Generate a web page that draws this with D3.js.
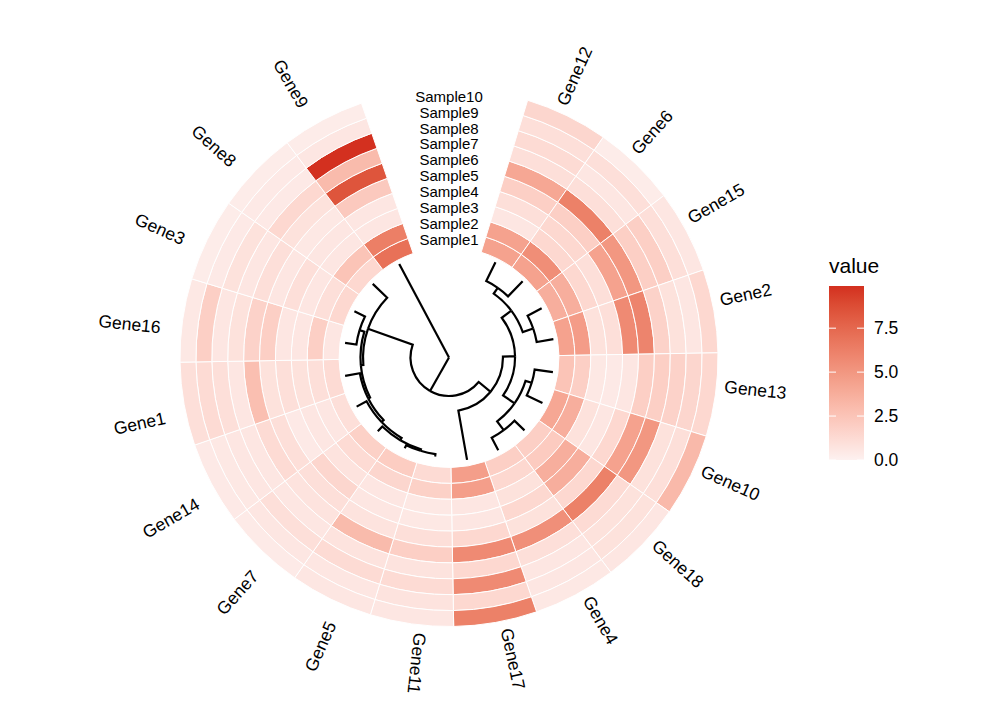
<!DOCTYPE html>
<html>
<head>
<meta charset="utf-8">
<script src="https://cdn.jsdelivr.net/npm/d3@7"></script>
<style>
  body { margin: 0; background: #fff; }
  text { font-family: "Liberation Sans", Arial, Helvetica, sans-serif; fill: #000; }
</style>
</head>
<body>
<svg></svg>
<script>
const width = 1008;
const height = 720;

// genes in clockwise order, starting right after the gap
const genes = ["Gene12", "Gene6", "Gene15", "Gene2", "Gene13", "Gene10", "Gene18", "Gene4", "Gene17",
  "Gene11", "Gene5", "Gene7", "Gene14", "Gene1", "Gene16", "Gene3", "Gene8", "Gene9"];
const samples = ["Sample1", "Sample2", "Sample3", "Sample4", "Sample5",
  "Sample6", "Sample7", "Sample8", "Sample9", "Sample10"];

// one row per gene (same order as genes), Sample1 .. Sample10
const values = [
  [4.4, 4.4, 0.6, 1.0, 1.9, 4.1, 1.0, 1.2, 1.0, 1.5],  // Gene12
  [4.4, 5.5, 1.4, 1.4, 1.9, 6.2, 1.0, 0.6, 1.0, 0.3],  // Gene6
  [3.7, 3.7, 1.4, 1.0, 4.4, 5.0, 1.9, 1.9, 1.0, 0.6],  // Gene15
  [4.4, 4.7, 0.85, 1.0, 5.7, 6.0, 1.7, 0.85, 0.6, 1.4], // Gene2
  [2.5, 1.9, 0.5, 0.45, 0.6, 1.9, 1.9, 1.7, 1.5, 1.4], // Gene13
  [4.1, 3.7, 0.85, 0.6, 1.4, 4.4, 5.0, 0.85, 1.0, 3.1], // Gene10
  [1.9, 2.1, 3.7, 3.7, 1.4, 6.2, 1.2, 0.85, 0.85, 0.6], // Gene18
  [1.9, 1.4, 0.85, 1.4, 0.85, 5.4, 1.0, 0.6, 0.6, 0.5], // Gene4
  [4.6, 4.6, 0.6, 0.6, 1.4, 5.7, 1.4, 5.7, 1.4, 6.2],  // Gene17
  [1.2, 1.8, 0.5, 0.5, 1.0, 1.9, 0.8, 1.2, 0.8, 0.6],  // Gene11
  [2.0, 1.5, 0.6, 0.6, 0.8, 3.0, 0.8, 1.2, 0.6, 0.6],  // Gene5
  [1.8, 1.2, 0.8, 1.5, 1.0, 0.8, 0.6, 1.0, 0.6, 0.4],  // Gene7
  [1.0, 0.6, 0.6, 0.45, 1.0, 1.2, 0.6, 0.6, 0.5, 0.45], // Gene14
  [1.2, 1.0, 0.85, 1.0, 0.85, 2.8, 0.6, 1.0, 1.2, 1.0], // Gene1
  [0.6, 1.9, 0.6, 0.6, 1.9, 1.7, 0.85, 0.6, 1.9, 0.5], // Gene16
  [1.4, 1.0, 0.6, 1.0, 0.6, 1.0, 0.6, 0.85, 0.45, 0.3], // Gene3
  [1.4, 2.5, 0.6, 0.6, 0.5, 0.85, 1.4, 0.45, 0.45, 0.3], // Gene8
  [7.0, 6.3, 0.6, 0.6, 2.2, 8.4, 3.0, 9.9, 0.6, 0.3]   // Gene9
];

const legendTicks = [0, 2.5, 5, 7.5];

// dendrogram of the genes: [node, parent, distance from root (0..1)]
const treeLinks = [
  ["root", "", 0],
  ["B", "root", 0.363],
  ["Gene9", "root", 1.0],
  ["R", "B", 0.509],
  ["L", "B", 0.811],
  ["N89", "R", 0.623],
  ["Gene17", "R", 0.981],
  ["N53", "N89", 0.736],
  ["N125", "N89", 0.755],
  ["N35", "N53", 0.802],
  ["N71", "N53", 0.84],
  ["Gene12", "N35", 1.0],
  ["Gene6", "N35", 1.0],
  ["Gene15", "N71", 0.99],
  ["Gene2", "N71", 1.0],
  ["N107", "N125", 0.816],
  ["N143", "N125", 0.858],
  ["Gene13", "N107", 0.99],
  ["Gene10", "N107", 0.981],
  ["Gene18", "N143", 0.99],
  ["Gene4", "N143", 0.99],
  ["Gene8", "L", 1.0],
  ["N265", "L", 0.835],
  ["N287", "N265", 0.882],
  ["Gene16", "N287", 0.99],
  ["Gene3", "N287", 0.993],
  ["N243", "N265", 0.854],
  ["Gene1", "N243", 0.995],
  ["N226", "N243", 0.881],
  ["Gene14", "N226", 0.987],
  ["N210", "N226", 0.906],
  ["Gene7", "N210", 0.967],
  ["N197", "N210", 0.92],
  ["Gene5", "N197", 0.953],
  ["Gene11", "N197", 0.943]
];

const cx = 449, cy = 357.5;
const deg = Math.PI / 180;
const rot = -1 * deg;   // whole ring is turned slightly
const gap = 36 * deg;   // opening at the top for the sample names
const innerR = 110, outerR = 269, treeR = 106;

const svg = d3.select("svg").attr("width", width).attr("height", height);
const g = svg.append("g").attr("transform", `translate(${cx},${cy})`);

const angle = d3.scaleBand()
  .domain(genes)
  .range([gap / 2 + rot, 2 * Math.PI - gap / 2 + rot]);

const radius = d3.scaleBand()
  .domain(samples)
  .range([innerR, outerR]);

const maxVal = d3.max(values.flat());
const color = d3.scaleLinear()
  .domain([0, maxVal])
  .range(["#fdf1f0", "#d3301f"])
  .interpolate(d3.interpolateLab);

// heatmap cells
const cells = [];
genes.forEach((gene, i) => {
  samples.forEach((s, j) => cells.push({ gene, sample: s, value: values[i][j] }));
});

const arc = d3.arc()
  .innerRadius(d => radius(d.sample))
  .outerRadius(d => radius(d.sample) + radius.bandwidth())
  .startAngle(d => angle(d.gene))
  .endAngle(d => angle(d.gene) + angle.bandwidth());

g.selectAll("path.cell")
  .data(cells)
  .enter()
  .append("path")
  .attr("class", "cell")
  .attr("d", arc)
  .attr("fill", d => color(d.value))
  .attr("stroke", "#fff")
  .attr("stroke-width", 1);

// sample names in the gap
g.selectAll("text.sample")
  .data(samples)
  .enter()
  .append("text")
  .attr("class", "sample")
  .attr("x", 0)
  .attr("y", d => -(radius(d) + radius.bandwidth() / 2))
  .attr("dy", "0.35em")
  .attr("text-anchor", "middle")
  .style("font-size", "15px")
  .text(d => d);

// gene names around the ring
const mid = d => angle(d) + angle.bandwidth() / 2;
g.selectAll("text.gene")
  .data(genes)
  .enter()
  .append("text")
  .attr("class", "gene")
  .attr("transform", d => {
    const a = mid(d) - 2 * deg;
    const left = mid(d) / deg > 197;
    const r = left ? outerR + 21 : outerR + 8;
    const r2 = left ? a / deg - 270 : a / deg - 90;
    return `translate(${r * Math.sin(a)},${-r * Math.cos(a)}) rotate(${r2})`;
  })
  .attr("text-anchor", d => (mid(d) / deg > 197 ? "end" : "start"))
  .attr("dy", "0.35em")
  .style("font-size", "17.5px")
  .text(d => d);

// dendrogram
const root = d3.stratify()
  .id(d => d[0])
  .parentId(d => d[1] || null)(treeLinks);

const treeScale = d3.scaleLinear().domain([0, 1]).range([0, treeR]);
root.eachAfter(n => {
  n.r = treeScale(n.data[2]);
  n.a = n.children ? d3.mean(n.children, c => c.a) : mid(n.id);
});

const pt = (r, a) => [r * Math.sin(a), -r * Math.cos(a)];

g.selectAll("path.branch")
  .data(root.descendants().filter(n => n.parent))
  .enter()
  .append("path")
  .attr("class", "branch")
  .attr("d", n => {
    const p = d3.path();
    const pr = n.parent.r, pa = n.parent.a;
    const [x0, y0] = pt(pr, pa);
    p.moveTo(x0, y0);
    if (pr > 0) p.arc(0, 0, pr, pa - Math.PI / 2, n.a - Math.PI / 2, n.a < pa);
    const [x1, y1] = pt(n.r, n.a);
    p.lineTo(x1, y1);
    return p.toString();
  })
  .attr("fill", "none")
  .attr("stroke", "#000")
  .attr("stroke-width", 2.2);

// legend
const legX = 829, legTop = 286, legBottom = 460, legW = 35;
const legScale = d3.scaleLinear().domain([0, maxVal]).range([legBottom, legTop]);

const grad = svg.append("defs").append("linearGradient")
  .attr("id", "legGrad")
  .attr("x1", 0).attr("y1", 1).attr("x2", 0).attr("y2", 0);
d3.range(0, 1.0001, 0.1).forEach(t => {
  grad.append("stop").attr("offset", t).attr("stop-color", color(t * maxVal));
});

const leg = svg.append("g");
leg.append("text")
  .attr("x", legX)
  .attr("y", 273)
  .style("font-size", "21px")
  .text("value");

leg.append("rect")
  .attr("x", legX).attr("y", legTop)
  .attr("width", legW).attr("height", legBottom - legTop)
  .attr("fill", "url(#legGrad)");

const tk = leg.selectAll("g.tick").data(legendTicks).enter().append("g").attr("class", "tick");
tk.append("line")
  .attr("x1", legX).attr("x2", legX + 7)
  .attr("y1", d => legScale(d)).attr("y2", d => legScale(d))
  .attr("stroke", "#fff").attr("stroke-width", 1);
tk.append("line")
  .attr("x1", legX + legW - 7).attr("x2", legX + legW)
  .attr("y1", d => legScale(d)).attr("y2", d => legScale(d))
  .attr("stroke", "#fff").attr("stroke-width", 1);
tk.append("text")
  .attr("x", legX + legW + 10)
  .attr("y", d => legScale(d))
  .attr("dy", "0.35em")
  .style("font-size", "17.5px")
  .text(d => d3.format(".1f")(d));
</script>
</body>
</html>
